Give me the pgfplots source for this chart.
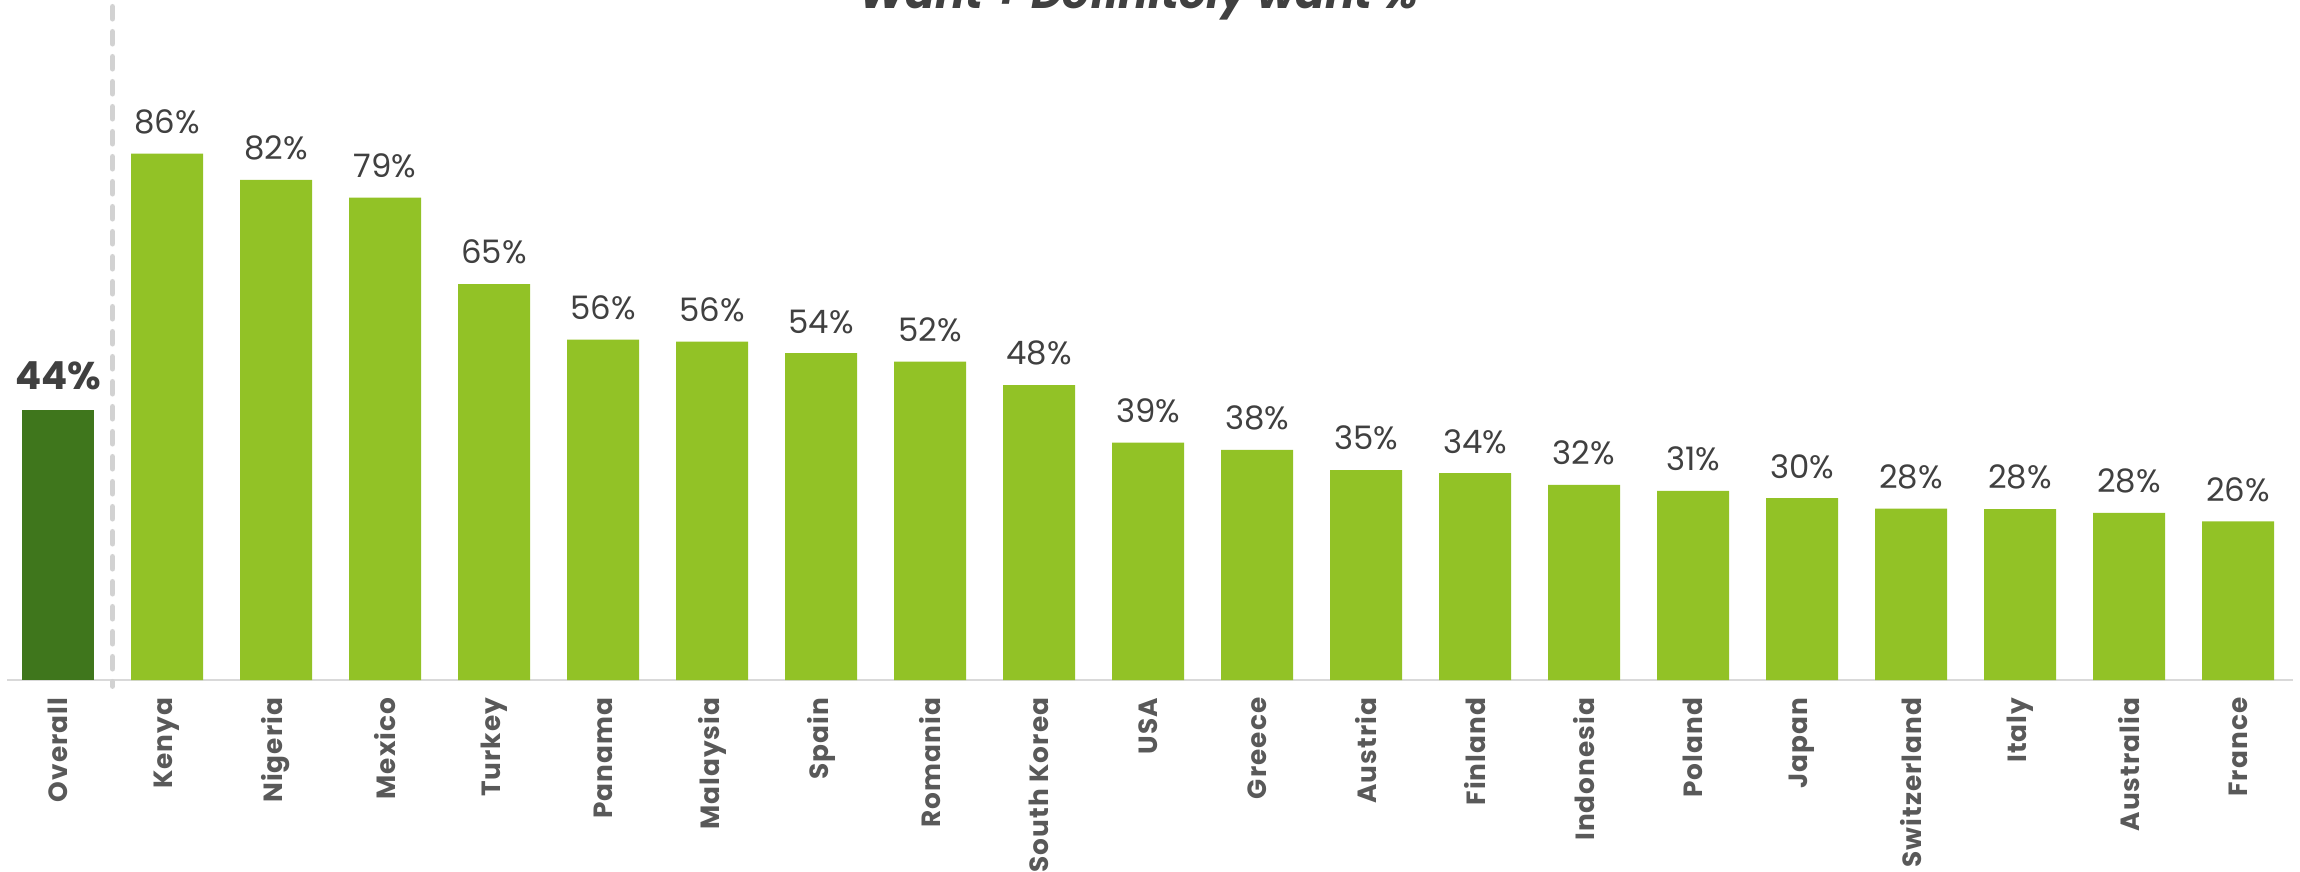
\documentclass[border=0pt]{standalone}
\usepackage{fontspec}
\setmainfont{Poppins}
\newfontfamily\tickfont[LetterSpace=4]{Poppins}
\usepackage{pgfplots}
\pgfplotsset{compat=1.18}
\usepackage{pgfplotstable}
\definecolor{lightg}{RGB}{146,194,38}
\definecolor{darkg}{RGB}{63,118,28}
\definecolor{txt}{RGB}{64,64,64}
\definecolor{tickc}{RGB}{89,89,89}
\definecolor{gridc}{RGB}{217,217,217}
\definecolor{dashc}{RGB}{210,210,210}
\pgfplotstableread{
x y lbl
1 86 86
2 81.7 82
3 78.8 79
4 64.7 65
5 55.6 56
6 55.3 56
7 53.4 54
8 52.0 52
9 48.2 48
10 38.8 39
11 37.6 38
12 34.3 35
13 33.8 34
14 31.9 32
15 30.9 31
16 29.7 30
17 28.0 28
18 27.9 28
19 27.3 28
20 25.9 26
}\countries
\pgfplotstableread{
x y lbl
0 44.1 44
}\overall
\begin{document}
\begin{tikzpicture}
\useasboundingbox (0,0) rectangle (23cm,8.71cm);
\begin{axis}[
  at={(0.07cm,1.91cm)}, anchor=south west,
  x=1.09cm, y=0.0612cm,
  xmin=-0.468, xmax=20.5, ymin=0, ymax=110,
  ybar, bar width=0.72cm, bar shift=0pt,
  axis y line=none, axis x line*=bottom,
  axis line style={gridc, line width=0.6pt, -},
  xtick={0,...,20},
  xticklabels={Overall,Kenya,Nigeria,Mexico,Turkey,Panama,Malaysia,Spain,Romania,South Korea,USA,Greece,Austria,Finland,Indonesia,Poland,Japan,Switzerland,Italy,Australia,France},
  major tick length=0pt,
  xticklabel shift=1.7mm,
  xticklabel style={rotate=90, anchor=east, font=\tickfont\fontsize{7.5}{8}\selectfont\bfseries, text=tickc, inner sep=0pt},
  clip=false,
  point meta=explicit symbolic,
  nodes near coords={\pgfplotspointmeta\%},
  nodes near coords style={anchor=south, inner sep=0pt, yshift=1.9mm, font=\fontsize{9.2}{11}\selectfont, text=txt},
]
\draw[dashc, line width=1.6pt, dash pattern=on 1.2mm off 1.3mm, line cap=round] (axis cs:0.5,110) -- (axis cs:0.5,-1);
\addplot[fill=darkg, draw=none, nodes near coords style={font=\fontsize{11}{13}\selectfont\bfseries}] table[x=x, y=y, meta=lbl] {\overall};
\addplot[fill=lightg, draw=none] table[x=x, y=y, meta=lbl] {\countries};
\end{axis}
\node[anchor=base, font=\fontsize{12.5}{14}\selectfont\bfseries\itshape, text=txt] at (11.39cm,8.62cm) {Want + Definitely want \%};
\end{tikzpicture}
\end{document}
